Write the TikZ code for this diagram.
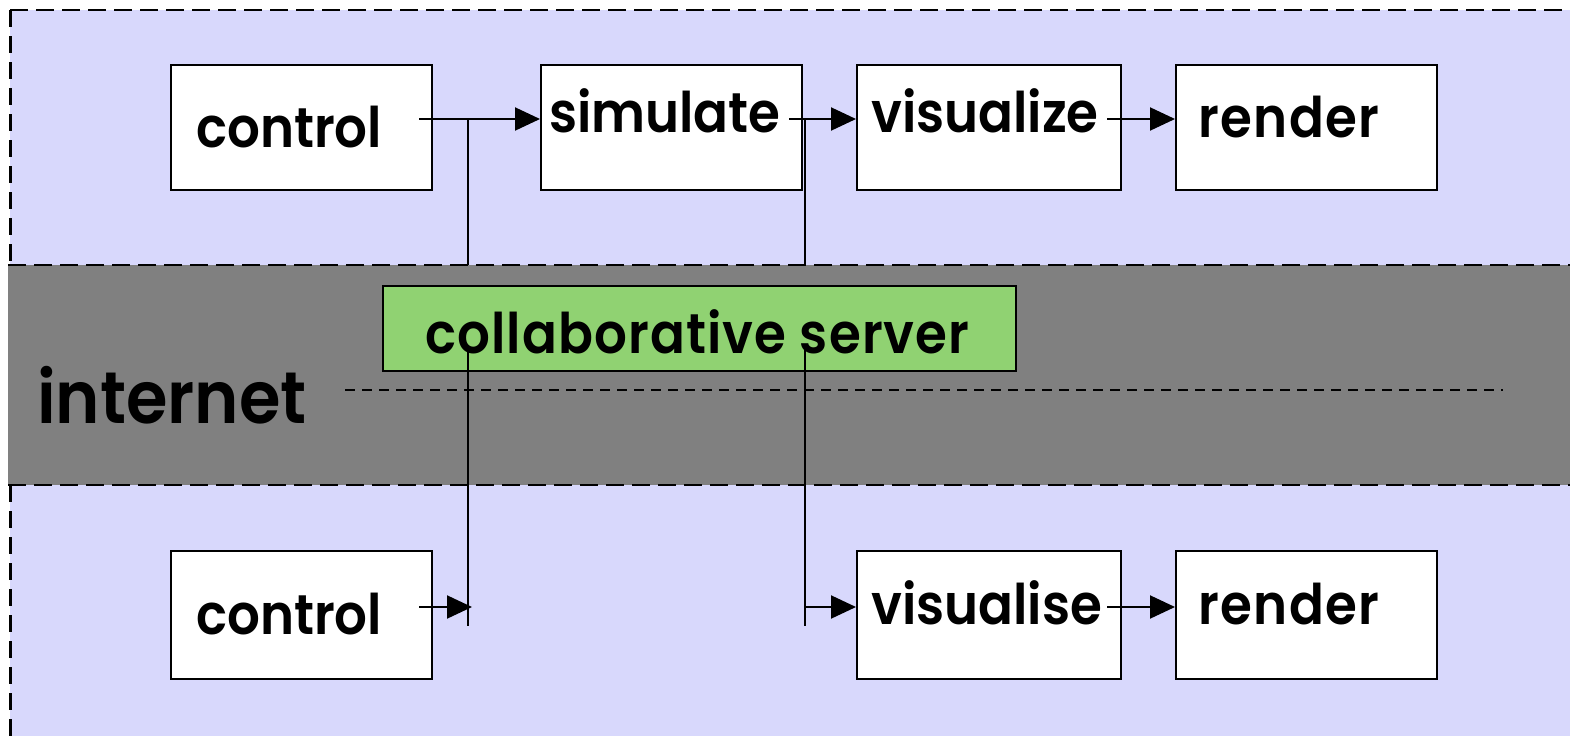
\documentclass[tikz,border=0pt]{standalone}
\usepackage{fontspec}
\newfontfamily\gfont{Poppins SemiBold}[FakeStretch=0.92]
\usetikzlibrary{arrows.meta}
\definecolor{lav}{RGB}{216,216,252}
\definecolor{band}{RGB}{128,128,128}
\definecolor{srv}{RGB}{144,210,114}
\tikzset{
  boxnode/.style={draw=black, fill=white, line width=2pt, inner sep=0pt, minimum width=261pt},
  lbl/.style={anchor=base west, inner sep=0pt, font=\gfont\fontsize{56}{60}\selectfont},
  conn/.style={line width=2pt, draw=black},
  arr/.style={conn, -{Triangle[length=25pt,width=23pt]}},
  border/.style={line width=2.5pt, dash pattern=on 18pt off 8pt},
}
\begin{document}
\begin{tikzpicture}[x=1pt,y=-1pt]
\useasboundingbox (0,0) rectangle (1570,736);
% regions
\fill[lav] (10,10) rectangle (1570,265);
\fill[lav] (10,485) rectangle (1570,736);
\fill[band] (8,265) rectangle (1570,485);
\draw[border] (10,10) -- (1570,10);
\draw[line width=3pt, dash pattern=on 17pt off 9pt] (10,10) -- (10,265);
\draw[line width=3pt, dash pattern=on 17pt off 9pt] (10,485) -- (10,736);
\draw[line width=2pt, dash pattern=on 18pt off 8pt] (8,265) -- (1570,265);
\draw[line width=2pt, dash pattern=on 18pt off 8pt] (8,485) -- (1570,485);
% internet
\node[lbl, font=\gfont\fontsize{73}{78}\selectfont] (inet) at (37,423) {internet};
\coordinate (dl) at (345,390);
\coordinate (dr) at (1503,390);
\draw[line width=1.3pt, dash pattern=on 10pt off 7pt] (dl) -- (dr);
% boxes
\node[boxnode, minimum height=125pt] (ctl1) at (301.5,127.5) {};
\node[boxnode, minimum height=125pt] (sim) at (671.5,127.5) {};
\node[boxnode, minimum height=125pt, minimum width=264pt] (vis1) at (989,127.5) {};
\node[boxnode, minimum height=125pt] (ren1) at (1306.5,127.5) {};
\node[boxnode, minimum height=128pt] (ctl2) at (301.5,615) {};
\node[boxnode, minimum height=128pt, minimum width=264pt] (vis2) at (989,615) {};
\node[boxnode, minimum height=128pt] (ren2) at (1306.5,615) {};
\node[boxnode, fill=srv, minimum width=633pt, minimum height=85pt] (server) at (699.5,328.5) {};
% labels
\node[lbl] (tctl1) at (196,147) {control};
\node[lbl] (tsim) at (549,132) {simulate};
\node[lbl] (tvis1) at (871,132) {visualize};
\node[lbl] (tren1) at (1198,137) {\addfontfeature{LetterSpace=2.5}render};
\node[lbl] (tctl2) at (196,634) {control};
\node[lbl] (tvis2) at (871,624) {visualise};
\node[lbl] (tren2) at (1198,624) {\addfontfeature{LetterSpace=2.5}render};
\node[lbl] (tsrv) at (425,353) {\addfontfeature{LetterSpace=2}collaborative server};
% connector coordinates
\coordinate (rowa) at (0,119);
\coordinate (rowb) at (0,607);
\coordinate (ja) at (468,119);
\coordinate (jb) at (805,119);
\coordinate (bandtop) at (0,265);
\coordinate (sa) at (468,345);
\coordinate (sb) at (805,345);
\coordinate (ea) at (468,626);
\coordinate (eb) at (805,626);
% top connectors
\draw[arr] ([xshift=-14pt]ctl1.east |- rowa) -- (sim.west |- rowa);
\draw[arr] ([xshift=-14pt]sim.east |- rowa) -- (vis1.west |- rowa);
\draw[arr] ([xshift=-15pt]vis1.east |- rowa) -- (ren1.west |- rowa);
\draw[conn] (ja) -- (ja |- bandtop);
\draw[conn] (jb) -- (jb |- bandtop);
% lower connectors
\draw[conn] (sa) -- (ea);
\draw[conn] (sb) -- (eb);
\draw[arr] ([xshift=-14pt]ctl2.east |- rowb) -- ([xshift=4pt]sa |- rowb);
\draw[arr] (sb |- rowb) -- (vis2.west |- rowb);
\draw[arr] ([xshift=-15pt]vis2.east |- rowb) -- (ren2.west |- rowb);
\end{tikzpicture}
\end{document}
